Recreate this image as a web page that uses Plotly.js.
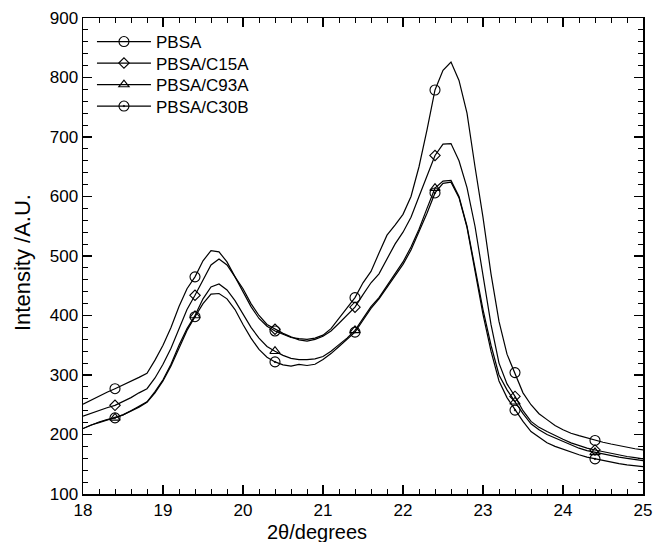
<!DOCTYPE html>
<html>
<head>
<meta charset="utf-8">
<script src="https://cdn.plot.ly/plotly-3.0.1.min.js"></script>
<style>html,body{margin:0;padding:0;background:#fff;}#chart{width:653px;height:542px;}</style>
</head>
<body>
<div id="chart"></div>
<script>
// 2θ from 18.0 to 25.0 in steps of 0.1
const twoTheta = [18.0,18.1,18.2,18.3,18.4,18.5,18.6,18.7,18.8,18.9,
  19.0,19.1,19.2,19.3,19.4,19.5,19.6,19.7,19.8,19.9,
  20.0,20.1,20.2,20.3,20.4,20.5,20.6,20.7,20.8,20.9,
  21.0,21.1,21.2,21.3,21.4,21.5,21.6,21.7,21.8,21.9,
  22.0,22.1,22.2,22.3,22.4,22.5,22.6,22.7,22.8,22.9,
  23.0,23.1,23.2,23.3,23.4,23.5,23.6,23.7,23.8,23.9,
  24.0,24.1,24.2,24.3,24.4,24.5,24.6,24.7,24.8,24.9,25.0];

const pbsa = [251,258,265,271,277,283,290,296,303,325,
  350,380,415,445,465,492,509,507,490,465,
  440,415,395,382,374,368,363,361,360,362,
  367,378,395,412,430,455,474,505,535,552,
  570,600,650,712,779,812,826,795,740,650,
  565,470,390,335,304,270,250,235,225,215,
  208,202,198,194,190,187,184,181,179,176,174];

const pbsaC15A = [231,236,240,245,249,255,262,270,277,295,
  318,345,378,410,434,460,485,495,485,465,
  445,420,400,385,377,370,364,359,357,360,
  365,374,387,400,414,435,455,470,496,520,
  540,565,600,635,669,688,689,660,615,550,
  465,385,320,285,264,240,222,212,205,198,
  192,186,181,177,174,171,168,165,163,161,159];

const pbsaC93A = [210,216,220,224,228,233,240,247,255,272,
  292,318,350,378,400,428,448,453,443,425,
  402,380,362,348,340,333,328,326,326,327,
  331,340,351,362,375,395,415,430,450,470,
  490,515,545,580,614,626,627,600,550,480,
  410,350,300,275,255,235,218,208,200,194,
  188,182,177,173,170,167,164,162,160,158,156];

const pbsaC30B = [210,216,221,225,228,233,239,246,254,270,
  290,315,345,375,398,420,436,437,428,410,
  385,362,343,330,322,317,315,318,316,318,
  326,336,348,360,372,392,412,428,447,467,
  486,510,540,572,606,622,624,598,548,475,
  402,340,290,262,241,222,205,195,186,180,
  175,170,166,162,159,156,153,151,149,147,146];

const seriesNames = ["PBSA","PBSA/C15A","PBSA/C93A","PBSA/C30B"];
const seriesValues = [pbsa, pbsaC15A, pbsaC93A, pbsaC30B];
const symbols = ["circle-open","diamond-open","triangle-up-open","circle-open-dot"];
const markerSizes = [10,8,9,10];

const xTicks = [18,19,20,21,22,23,24,25];
const yTicks = [100,200,300,400,500,600,700,800,900];
const xTitle = "2θ/degrees";
const yTitle = "Intensity /A.U.";

const W = 653, H = 542;
const M = {l: 83, r: 10, t: 18, b: 48};
const plotH = H - M.t - M.b, plotW = W - M.l - M.r;
const legendNames = ["legend","legend2","legend3","legend4"];

const traces = [];
seriesValues.forEach((vals, s) => {
  traces.push({
    x: twoTheta, y: vals, mode: "lines", type: "scatter",
    line: {color: "#000", width: 1.2}, showlegend: false, hoverinfo: "skip"
  });
  const mx = [], my = [];
  twoTheta.forEach((t, i) => { if (i % 10 === 4) { mx.push(t); my.push(vals[i]); } });
  traces.push({
    x: mx, y: my, mode: "markers", type: "scatter", showlegend: false,
    marker: {symbol: symbols[s], size: markerSizes[s], color: "#000", line: {color: "#000", width: 1.1}}
  });
});
seriesNames.forEach((n, s) => {
  traces.push({
    x: [null], y: [null], mode: "lines+markers", type: "scatter", name: n,
    legend: legendNames[s],
    line: {color: "#000", width: 1.2},
    marker: {symbol: symbols[s], size: markerSizes[s], color: "#000", line: {color: "#000", width: 1.1}}
  });
});

const font = {family: "Liberation Sans, Arial, sans-serif", color: "#000"};
const legendCenters = [42, 63.5, 85, 106.5];
const layout = {
  width: W, height: H,
  margin: M,
  paper_bgcolor: "#fff", plot_bgcolor: "#fff",
  font: Object.assign({size: 16}, font),
  showlegend: true,
  xaxis: {
    range: [18, 25], tickvals: xTicks, ticktext: xTicks.map(String),
    ticks: "inside", ticklen: 9, tickwidth: 1.2, tickcolor: "#000",
    minor: {dtick: 0.2, ticks: "inside", ticklen: 5, tickwidth: 1, tickcolor: "#000"},
    showline: true, linecolor: "#000", linewidth: 1.5, mirror: "allticks",
    showgrid: false, zeroline: false, ticklabeloverflow: "allow",
    tickfont: Object.assign({size: 17}, font)
  },
  yaxis: {
    range: [100, 900], tickvals: yTicks, ticktext: yTicks.map(String),
    ticks: "inside", ticklen: 9, tickwidth: 1.2, tickcolor: "#000",
    minor: {dtick: 20, ticks: "inside", ticklen: 5, tickwidth: 1, tickcolor: "#000"},
    showline: true, linecolor: "#000", linewidth: 1.5, mirror: "allticks",
    showgrid: false, zeroline: false,
    tickfont: Object.assign({size: 17}, font)
  },
  annotations: [{
    text: xTitle, xref: "paper", yref: "paper", x: (317 - M.l) / plotW,
    y: -(531.5 - (H - M.b)) / plotH, xanchor: "center", yanchor: "middle",
    showarrow: false, font: Object.assign({size: 20}, font)
  }, {
    text: yTitle, xref: "paper", yref: "paper", x: (22 - M.l) / plotW,
    y: 1 - (263 - M.t) / plotH, xanchor: "center", yanchor: "middle", textangle: -90,
    showarrow: false, font: Object.assign({size: 22}, font)
  }]
};
legendNames.forEach((ln, s) => {
  layout[ln] = {
    x: 0.016, y: 1 - (legendCenters[s] - M.t) / plotH, xanchor: "left", yanchor: "middle",
    bgcolor: "rgba(0,0,0,0)", borderwidth: 0, itemwidth: 54,
    font: Object.assign({size: 17}, font)
  };
});

Plotly.newPlot("chart", traces, layout, {displayModeBar: false, staticPlot: true});
</script>
</body>
</html>
